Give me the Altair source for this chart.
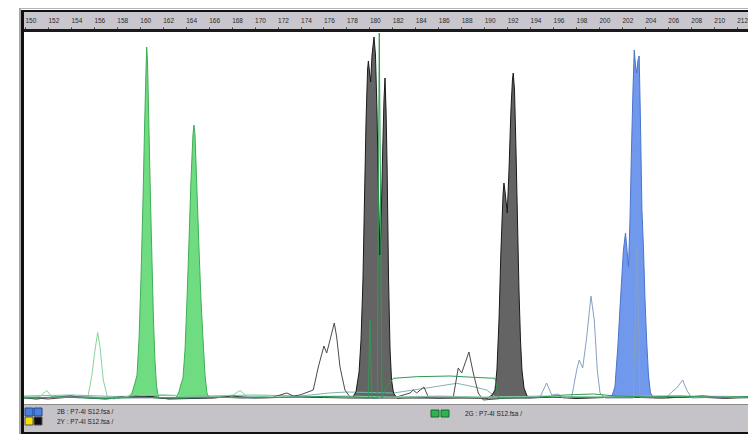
import altair as alt
import pandas as pd

# ---------------- data (size in bp, signal in RFU) ----------------
TICKS = [150, 152, 154, 156, 158, 160, 162, 164, 166, 168, 170, 172, 174, 176, 178, 180,
         182, 184, 186, 188, 190, 192, 194, 196, 198, 200, 202, 204, 206, 208, 210, 212]

# green dye, filled peaks
G_SIZE = [158.97, 159.32, 159.58, 159.76, 159.93, 160.10, 160.28, 160.41, 160.54, 160.60,
          160.67, 160.80, 160.93, 161.06, 161.19, 161.32, 161.45, 161.59, 161.76,
          163.15, 163.41, 163.59, 163.76, 163.94, 164.11, 164.29, 164.46, 164.63, 164.72,
          164.81, 164.98, 165.16, 165.33, 165.51, 165.68, 165.85, 166.03]
G_RFU = [0, 50, 150, 230, 580, 1180, 1980, 2680, 3280, 3510,
         3380, 2680, 1980, 1380, 780, 380, 130, 20, 0,
         0, 60, 140, 200, 480, 980, 1580, 2180, 2630, 2730,
         2630, 2080, 1480, 980, 580, 230, 50, 0]

# yellow dye (shown dark), filled peaks
K_SIZE = [178.48, 178.83, 179.10, 179.27, 179.44, 179.57, 179.71, 179.84, 179.91, 180.01,
          180.11, 180.23, 180.40, 180.53, 180.66, 180.79, 180.92, 181.01, 181.14, 181.27,
          181.36, 181.45, 181.54, 181.67, 181.80, 181.93, 182.10, 182.40,
          190.33, 190.68, 190.94, 191.11, 191.29, 191.46, 191.64, 191.72, 191.85, 192.01,
          192.16, 192.33, 192.46, 192.53, 192.64, 192.77, 192.90, 193.03, 193.16, 193.29,
          193.47, 193.73, 193.99]
K_RFU = [0, 60, 260, 580, 1180, 1980, 2780, 3280, 3370, 3260,
         3160, 3430, 3610, 3430, 2880, 2080, 1430, 1680, 2380, 2980,
         3200, 2880, 2330, 1180, 480, 180, 50, 0,
         0, 30, 80, 280, 780, 1480, 2030, 2150, 2030, 1850,
         2280, 2880, 3180, 3250, 3080, 2480, 1780, 1080, 580, 280,
         100, 20, 0]

# blue dye, filled peak
B_SIZE = [200.78, 201.13, 201.39, 201.65, 201.92, 202.13, 202.31, 202.44, 202.57, 202.70,
          202.83, 202.96, 203.07, 203.18, 203.28, 203.40, 203.50, 203.61, 203.74, 203.88,
          204.01, 204.15, 204.31, 204.48, 204.79]
B_RFU = [0, 20, 110, 530, 1080, 1480, 1650, 1480, 1310, 1780,
         2480, 3080, 3480, 3330, 3250, 3380, 3420, 2780, 1880, 1480,
         980, 580, 230, 50, 0]

# dark baseline trace
BK_SIZE = [149.92, 151.0, 152.5, 154.0, 155.5, 157.0, 158.5, 161.0, 162.5, 166.5,
           168.0, 170.0, 174.0, 176.0, 178.48, 182.40, 184.0, 186.0, 188.0, 190.33,
           193.99, 196.0, 198.0, 200.5, 203.0, 205.5, 207.5, 209.0, 211.0, 213.0]
BK_RFU = [0, -10, 10, 20, 0, -10, 5, 15, -10, 0,
          20, 0, 10, 5, 0, 0, 10, 0, 5, 0,
          0, 10, -5, 5, 15, 0, 10, 20, 5, 10]

# grey overlay trace
GY_SIZE = [149.92, 152.0, 154.5, 157.0, 159.5, 162.0, 166.5, 169.0, 171.5, 172.8,
           173.4, 173.95, 175.11, 175.55, 176.04, 176.28, 176.57, 176.94, 177.15, 177.44,
           177.87, 178.31, 180.0, 182.38, 183.54, 183.82, 184.12, 184.75, 185.13, 187.31,
           187.74, 188.04, 188.67, 189.05, 189.48, 189.92, 192.0, 194.28, 196.60, 199.0,
           202.0, 205.0, 208.5, 211.0, 213.0]
GY_RFU = [10, -10, 15, 0, 20, -5, 10, 0, 5, 50,
          20, 30, 80, 310, 520, 450, 580, 750, 610, 310,
          80, 10, 0, 10, 50, 80, 50, 110, 10, 10,
          300, 250, 460, 250, 50, -20, 0, 10, 10, 5,
          10, 0, 10, -5, 5]

# pale green overlay trace
PG_SIZE = [149.92, 151.31, 151.89, 152.33, 155.23, 155.51, 155.81, 156.10, 156.33, 156.53,
           156.82, 157.17, 157.69, 160.0, 162.5, 166.0, 168.14, 168.73, 169.31, 172.0,
           174.54, 178.0, 182.0, 186.0, 190.0, 195.0, 200.0, 205.0, 210.0, 213.0]
PG_RFU = [10, 15, 75, 15, 0, 30, 215, 480, 655, 515,
          180, 15, -10, 40, 30, 10, 30, 75, 20, 10,
          15, 20, 10, 20, 10, 15, 10, 20, 10, 15]

# green line trace
GL_SIZE = [149.92, 153.0, 156.5, 160.0, 164.0, 168.0, 172.0, 176.0, 178.5, 179.90,
           180.05, 180.23, 180.69, 180.86, 181.10, 181.51, 182.08, 184.12, 187.02, 189.05,
           190.94, 191.23, 194.5, 197.0, 199.5, 201.5, 204.5, 207.0, 210.0, 213.0]
GL_RFU = [0, 10, -5, 5, 0, 10, 5, 15, 10, 0,
          780, 0, 0, 3650, 0, 113, 197, 213, 220, 207,
          197, 0, 5, 30, 40, 20, 10, 20, 5, 15]

# teal line trace
TL_SIZE = [149.92, 154.0, 158.0, 162.0, 166.0, 170.0, 174.0, 176.5, 178.0, 182.08,
           185.0, 187.60, 189.05, 190.22, 191.0, 195.0, 200.0, 206.0, 213.0]
TL_RFU = [20, 30, 15, 25, 20, 30, 20, 50, 60, 50,
          100, 147, 113, 80, 10, 20, 10, 20, 15]

# blue-grey overlay trace
BG_SIZE = [149.92, 155.0, 160.0, 165.0, 170.0, 175.0, 180.0, 185.0, 190.0, 194.86,
           195.44, 195.88, 196.45, 196.89, 197.62, 198.06, 198.28, 198.58, 198.93, 199.30,
           199.59, 199.85, 200.09, 200.52, 202.99, 203.31, 203.57, 205.90, 206.33, 206.77,
           207.29, 207.64, 208.07, 210.5, 213.0]
BG_RFU = [0, 10, 0, 10, 0, 15, 0, 10, 5, 10,
          150, 30, 40, 0, 10, 280, 380, 300, 610, 1020,
          780, 280, 50, 0, 0, 1510, 10, 10, 60, 100,
          180, 80, 0, 10, 0]

LEGEND_LABELS = ["2B : P7-4I S12.fsa /", "2Y : P7-4I S12.fsa /", "2G : P7-4I S12.fsa /"]

X_DOMAIN = [149.913, 212.98]
Y_DOMAIN = [-60, 3660]
W = 724


def frame(sizes, rfu):
    return pd.DataFrame({"size": sizes, "rfu": rfu})


xenc = alt.X(
    "size:Q",
    scale=alt.Scale(domain=X_DOMAIN, nice=False, zero=False),
    axis=alt.Axis(orient="top", values=TICKS, format="d", labelAlign="left",
                  labelBaseline="bottom", labelFont="Liberation Sans", labelFontSize=6.5,
                  labelColor="#2a2a2a", labelPadding=4, tickSize=2, tickColor="#333333",
                  tickWidth=1, offset=3, domain=False, grid=False, title=None,
                  labelFlush=False, labelOverlap=False, zindex=2),
)
yenc = alt.Y("rfu:Q", scale=alt.Scale(domain=Y_DOMAIN, nice=False, zero=False), axis=None)

ONE = pd.DataFrame({"k": [0]})


def box(x, x2, y, y2, color, stroke=None, sw=0):
    kw = {"color": color}
    if stroke is not None:
        kw.update(stroke=stroke, strokeWidth=sw)
    return alt.Chart(ONE).mark_rect(**kw).encode(
        x=alt.value(x), x2=alt.value(x2), y=alt.value(y), y2=alt.value(y2))


def label(x, y, txt):
    return alt.Chart(ONE).mark_text(align="left", baseline="middle", font="Liberation Sans",
                                    fontSize=6.5, color="#1e1e1e").encode(
        x=alt.value(x), y=alt.value(y), text=alt.value(txt))


def area(sizes, rfu, color):
    return alt.Chart(frame(sizes, rfu)).mark_area(color=color, opacity=1, clip=True).encode(
        x=xenc, y=yenc)


def line(sizes, rfu, color, width=1.0, opacity=1.0):
    return alt.Chart(frame(sizes, rfu)).mark_line(color=color, strokeWidth=width,
                                                  opacity=opacity, clip=True).encode(
        x=xenc, y=yenc)


decor = [
    box(-5, W, -24, -23, "#b4b4b4"),
    box(-5, -3, -24, 402, "#a8a8a8"),
    box(-3, W, -22, -20, "#111111"),
    box(-3, W, -20, -3, "#cac6cd"),
    box(-3, W, -3, 0, "#1a1a1a"),
    box(0, W, 372, 400, "#c5c3c8"),
    box(0, W, 372, 373, "#8a8a8a"),
    box(-3, W, 400, 402, "#111111"),
    box(-3, 0, -22, 402, "#111111"),
]

legend = [
    box(1, 9, 376, 384, "#4b7fdc", "#24468f", 1),
    box(10, 18, 376, 384, "#4b7fdc", "#24468f", 1),
    box(1, 9, 385, 393, "#f2e200", "#555555", 1),
    box(10, 18, 385, 393, "#0d0d0d", "#555555", 1),
    box(407, 415, 378, 385, "#2db34f", "#14692a", 1),
    box(417, 425, 378, 385, "#2db34f", "#14692a", 1),
    label(33, 380, LEGEND_LABELS[0]),
    label(33, 390, LEGEND_LABELS[1]),
    label(441, 381.5, LEGEND_LABELS[2]),
]

traces = [
    area(G_SIZE, G_RFU, "#6fdc82"),
    area(K_SIZE, K_RFU, "#646464"),
    area(B_SIZE, B_RFU, "#7098ec"),
    line(TL_SIZE, TL_RFU, "#7fb4b2"),
    line(BK_SIZE, BK_RFU, "#1c1c1c"),
    line(G_SIZE, G_RFU, "#3fae57"),
    line(K_SIZE, K_RFU, "#1a1a1a"),
    line(B_SIZE, B_RFU, "#4a74cc"),
    line(GY_SIZE, GY_RFU, "#4a4a4a"),
    line(PG_SIZE, PG_RFU, "#86d49a"),
    line(BG_SIZE, BG_RFU, "#87a0c4"),
    line(GL_SIZE, GL_RFU, "#2f9a52"),
]

chart = alt.layer(*decor, *traces, *legend).properties(
    width=W,
    height=372,
    autosize=alt.AutoSizeParams(type="none"),
    padding={"left": 16, "top": 24, "right": 0, "bottom": 30},
    background="white",
).configure_view(strokeWidth=0)

chart.save("out.html", embed_options={"renderer": "svg", "actions": False})
